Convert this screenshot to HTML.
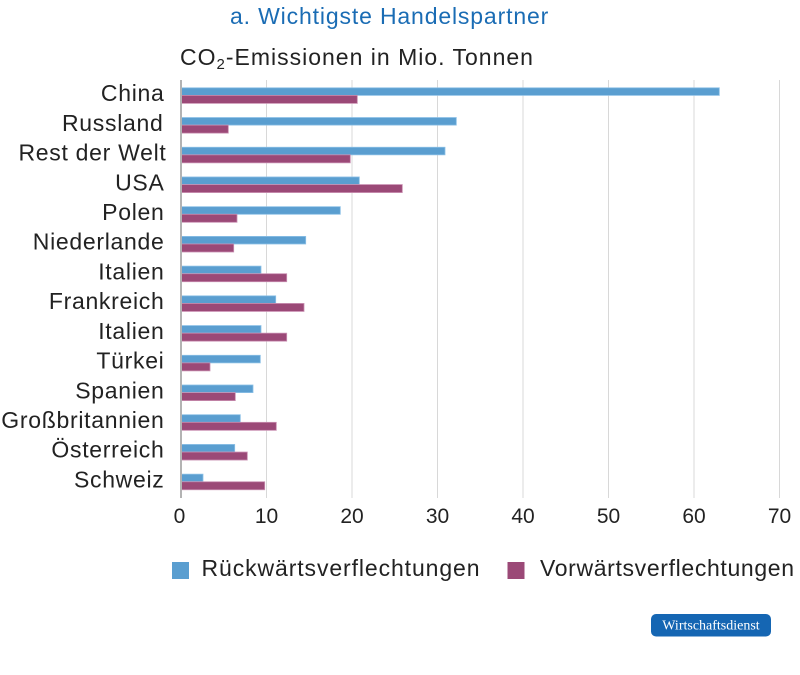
<!DOCTYPE html>
<html>
<head>
<meta charset="utf-8">
<style>
  html,body{margin:0;padding:0;background:#fff;}
  svg{display:block;}
  .s{font-family:"Liberation Sans","DejaVu Sans",sans-serif;}
  .logo{font-family:"Liberation Serif","DejaVu Serif",serif;}
</style>
</head>
<body>
<svg width="800" height="675" viewBox="0 0 800 675" xmlns="http://www.w3.org/2000/svg">
  <rect x="0" y="0" width="800" height="675" fill="#ffffff"/>

  <!-- Title -->
  <text class="s" x="230" y="24" font-size="23" fill="#1a6cb4" letter-spacing="0.85">a. Wichtigste Handelspartner</text>
  <!-- Subtitle -->
  <text class="s" x="180" y="65" font-size="23" fill="#222" letter-spacing="1.0">CO<tspan font-size="15" dy="4">2</tspan><tspan dy="-4">-Emissionen in Mio. Tonnen</tspan></text>

  <!-- Gridlines -->
  <g stroke="#d8d8d8" stroke-width="1">
    <line x1="266.5" y1="80" x2="266.5" y2="498"/>
    <line x1="352" y1="80" x2="352" y2="498"/>
    <line x1="437.5" y1="80" x2="437.5" y2="498"/>
    <line x1="523" y1="80" x2="523" y2="498"/>
    <line x1="608.5" y1="80" x2="608.5" y2="498"/>
    <line x1="694" y1="80" x2="694" y2="498"/>
    <line x1="779.5" y1="80" x2="779.5" y2="498"/>
  </g>

  <!-- Bars: blue (Rückwärts) -->
  <g fill="#5a9ed0" stroke="#8cc0e6" stroke-width="0.8">
    <rect x="181" y="87.8" width="538.3" height="7.6"/>
    <rect x="181" y="117.52" width="275.3" height="7.6"/>
    <rect x="181" y="147.24" width="264" height="7.6"/>
    <rect x="181" y="176.96" width="178.3" height="7.6"/>
    <rect x="181" y="206.68" width="159.3" height="7.6"/>
    <rect x="181" y="236.4" width="124.7" height="7.6"/>
    <rect x="181" y="266.12" width="80" height="7.6"/>
    <rect x="181" y="295.84" width="94.7" height="7.6"/>
    <rect x="181" y="325.56" width="80" height="7.6"/>
    <rect x="181" y="355.28" width="79.3" height="7.6"/>
    <rect x="181" y="385.0" width="72" height="7.6"/>
    <rect x="181" y="414.72" width="59.3" height="7.6"/>
    <rect x="181" y="444.44" width="53.7" height="7.6"/>
    <rect x="181" y="474.16" width="22" height="7.6"/>
  </g>
  <!-- Bars: magenta (Vorwärts) -->
  <g fill="#9b4977" stroke="#c98fb1" stroke-width="0.8">
    <rect x="181" y="95.4" width="176.3" height="8"/>
    <rect x="181" y="125.12" width="47.3" height="8"/>
    <rect x="181" y="154.84" width="169.3" height="8"/>
    <rect x="181" y="184.56" width="221.3" height="8"/>
    <rect x="181" y="214.28" width="56" height="8"/>
    <rect x="181" y="244.0" width="52.7" height="8"/>
    <rect x="181" y="273.72" width="105.7" height="8"/>
    <rect x="181" y="303.44" width="123" height="8"/>
    <rect x="181" y="333.16" width="105.7" height="8"/>
    <rect x="181" y="362.88" width="29" height="8"/>
    <rect x="181" y="392.6" width="54.3" height="8"/>
    <rect x="181" y="422.32" width="95.3" height="8"/>
    <rect x="181" y="452.04" width="66.3" height="8"/>
    <rect x="181" y="481.76" width="83.7" height="8"/>
  </g>

  <!-- Axis line -->
  <line x1="181" y1="80" x2="181" y2="498" stroke="#b3b3b3" stroke-width="2"/>

  <!-- Category labels -->
  <g class="s" font-size="23" fill="#222" text-anchor="end" letter-spacing="0.7">
    <text x="164.5" y="101.1">China</text>
    <text x="163.5" y="130.8">Russland</text>
    <text x="166.5" y="160.5">Rest der Welt</text>
    <text x="164.5" y="190.3">USA</text>
    <text x="164.5" y="220.0">Polen</text>
    <text x="164.5" y="249.7">Niederlande</text>
    <text x="164.5" y="279.4">Italien</text>
    <text x="164.5" y="309.1">Frankreich</text>
    <text x="164.5" y="338.9">Italien</text>
    <text x="164.5" y="368.6">Türkei</text>
    <text x="164.5" y="398.3">Spanien</text>
    <text x="164.5" y="428.0">Großbritannien</text>
    <text x="164.5" y="457.7">Österreich</text>
    <text x="164.5" y="487.5">Schweiz</text>
  </g>

  <!-- Tick labels -->
  <g class="s" font-size="21" fill="#222" text-anchor="middle">
    <text x="179.5" y="523">0</text>
    <text x="266.5" y="523">10</text>
    <text x="352" y="523">20</text>
    <text x="437.5" y="523">30</text>
    <text x="523" y="523">40</text>
    <text x="608.5" y="523">50</text>
    <text x="694" y="523">60</text>
    <text x="779.5" y="523">70</text>
  </g>

  <!-- Legend -->
  <rect x="172" y="562" width="17" height="17" fill="#5a9ed0"/>
  <text class="s" x="201.5" y="576" font-size="23" fill="#222" letter-spacing="0.9">Rückwärtsverflechtungen</text>
  <rect x="507.5" y="562" width="17" height="17" fill="#9b4977"/>
  <text class="s" x="540" y="576" font-size="23" fill="#222" letter-spacing="0.65">Vorwärtsverflechtungen</text>

  <!-- Logo -->
  <rect x="651" y="614" width="120" height="22.5" rx="5" ry="5" fill="#1566b3"/>
  <text class="logo" x="711" y="629.5" font-size="14" fill="#ffffff" text-anchor="middle">Wirtschaftsdienst</text>
</svg>
</body>
</html>
